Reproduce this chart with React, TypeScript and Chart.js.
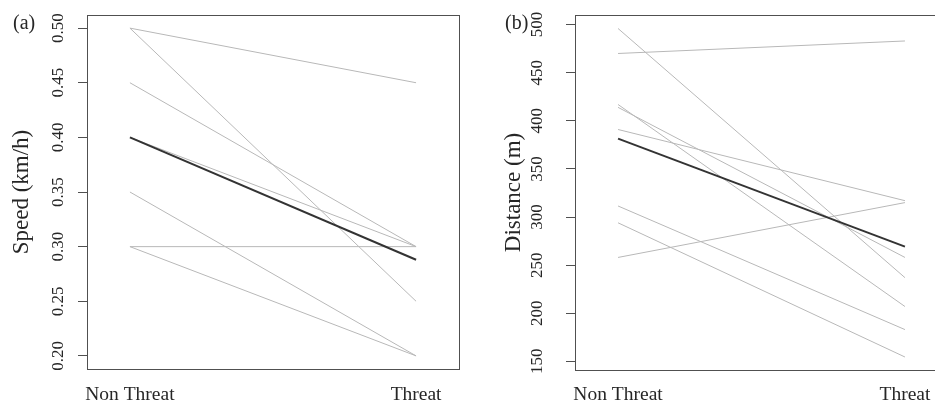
import React, { useEffect, useRef } from "react";
import { Chart, registerables } from "chart.js";

Chart.register(...registerables);

// ---------- data ----------
const categories = ["Non Threat", "Threat"];

const speedNonThreat = [0.5, 0.5, 0.45, 0.4, 0.35, 0.3, 0.3];
const speedThreat = [0.45, 0.25, 0.3, 0.3, 0.2, 0.3, 0.2];
const speedMean = [0.4, 0.288];
const speedTicks = [0.2, 0.25, 0.3, 0.35, 0.4, 0.45, 0.5];
const speedTickLabels = ["0.20", "0.25", "0.30", "0.35", "0.40", "0.45", "0.50"];

const distNonThreat = [470, 496, 417, 414, 391, 311.5, 294, 258];
const distThreat = [483, 237, 207, 258, 317, 183, 154.5, 315];
const distMean = [381.5, 269.2];
const distTicks = [150, 200, 250, 300, 350, 400, 450, 500];
const distTickLabels = ["150", "200", "250", "300", "350", "400", "450", "500"];

const GRAY = "#b8b8b8";
const DARK = "#333333";
const TEXT = "#262626";
const BOX = "#505050";
const SERIF = '"Liberation Serif", "Times New Roman", serif';

type PanelCfg = {
  panel: string;
  title: string;
  nonThreat: number[];
  threat: number[];
  mean: number[];
  ticks: number[];
  tickLabels: string[];
  yMin: number;
  yMax: number;
  width: number;
  yAxisWidth: number;
  padTop: number;
  padRight: number;
  xAxisHeight: number;
  tickLabelX: number;
  titleX: number;
  panelX: number;
  panelY: number;
  xLabelY: number;
};

function makeChart(canvas: HTMLCanvasElement, cfg: PanelCfg) {
  const datasets: any[] = [
    {
      data: categories.map((_, i) => ({ x: i + 1, y: cfg.mean[i] })),
      borderColor: DARK,
      borderWidth: 2,
      pointRadius: 0,
      fill: false,
      tension: 0,
    },
  ];
  cfg.nonThreat.forEach((v, i) => {
    datasets.push({
      data: [
        { x: 1, y: v },
        { x: 2, y: cfg.threat[i] },
      ],
      borderColor: GRAY,
      borderWidth: 1,
      pointRadius: 0,
      fill: false,
      tension: 0,
    });
  });

  const textPlugin = {
    id: "panelText",
    afterDatasetsDraw(chart: any) {
      const ctx = chart.ctx;
      const { left, right, top, bottom } = chart.chartArea;
      const ys = chart.scales.y;
      const xs = chart.scales.x;
      ctx.save();
      // box
      ctx.strokeStyle = BOX;
      ctx.lineWidth = 1;
      ctx.strokeRect(
        Math.round(left) + 0.5,
        Math.round(top) + 0.5,
        Math.round(right) - Math.round(left),
        Math.round(bottom) - Math.round(top)
      );
      ctx.fillStyle = TEXT;
      // y tick labels (rotated)
      ctx.font = "17px " + SERIF;
      ctx.textAlign = "center";
      ctx.textBaseline = "alphabetic";
      cfg.ticks.forEach((v, i) => {
        const y = ys.getPixelForValue(v);
        ctx.save();
        ctx.translate(cfg.tickLabelX, y);
        ctx.rotate(-Math.PI / 2);
        ctx.fillText(cfg.tickLabels[i], 0, 0);
        ctx.restore();
      });
      // y title
      ctx.font = "23px " + SERIF;
      ctx.save();
      ctx.translate(cfg.titleX, (top + bottom) / 2);
      ctx.rotate(-Math.PI / 2);
      ctx.fillText(cfg.title, 0, 0);
      ctx.restore();
      // x labels
      ctx.font = "19.5px " + SERIF;
      categories.forEach((c, i) => {
        const x = xs.getPixelForValue(i + 1);
        ctx.fillText(c, x, cfg.xLabelY);
      });
      // panel label
      ctx.font = "20px " + SERIF;
      ctx.textAlign = "left";
      ctx.fillText(cfg.panel, cfg.panelX, cfg.panelY);
      ctx.restore();
    },
  };

  return new Chart(canvas, {
    type: "line",
    data: { datasets },
    options: {
      animation: false,
      responsive: false,
      maintainAspectRatio: false,
      events: [],
      layout: {
        padding: { left: 0, top: cfg.padTop, right: cfg.padRight, bottom: 0 },
      },
      plugins: {
        legend: { display: false },
        tooltip: { enabled: false },
        title: { display: false },
      },
      scales: {
        x: {
          type: "linear",
          min: 0.85,
          max: 2.15,
          afterBuildTicks: (s: any) => {
            s.ticks = categories.map((_, i) => ({ value: i + 1 }));
          },
          afterFit: (s: any) => {
            s.height = cfg.xAxisHeight;
          },
          ticks: { display: false },
          grid: { display: false },
          border: { display: false },
        },
        y: {
          type: "linear",
          min: cfg.yMin,
          max: cfg.yMax,
          afterBuildTicks: (s: any) => {
            s.ticks = cfg.ticks.map((v) => ({ value: v }));
          },
          afterFit: (s: any) => {
            s.width = cfg.yAxisWidth;
          },
          ticks: { display: false },
          grid: {
            drawOnChartArea: false,
            drawTicks: true,
            tickLength: 9,
            color: BOX,
            lineWidth: 1,
          },
          border: { display: false },
        },
      },
    } as any,
    plugins: [textPlugin],
  });
}

const H = 403;

const speedCfg: PanelCfg = {
  panel: "(a)",
  title: "Speed (km/h)",
  nonThreat: speedNonThreat,
  threat: speedThreat,
  mean: speedMean,
  ticks: speedTicks,
  tickLabels: speedTickLabels,
  yMin: 0.188,
  yMax: 0.512,
  width: 470,
  yAxisWidth: 87,
  padTop: 15,
  padRight: 11,
  xAxisHeight: 34,
  tickLabelX: 63,
  titleX: 28,
  panelX: 13,
  panelY: 29,
  xLabelY: 400,
};

const distCfg: PanelCfg = {
  panel: "(b)",
  title: "Distance (m)",
  nonThreat: distNonThreat,
  threat: distThreat,
  mean: distMean,
  ticks: distTicks,
  tickLabels: distTickLabels,
  yMin: 141,
  yMax: 510,
  width: 490,
  yAxisWidth: 105,
  padTop: 15,
  padRight: 12,
  xAxisHeight: 33,
  tickLabelX: 72,
  titleX: 50,
  panelX: 35,
  panelY: 29,
  xLabelY: 400,
};

export default function App() {
  const refA = useRef<HTMLCanvasElement>(null);
  const refB = useRef<HTMLCanvasElement>(null);

  useEffect(() => {
    const a = makeChart(refA.current as HTMLCanvasElement, speedCfg);
    const b = makeChart(refB.current as HTMLCanvasElement, distCfg);
    return () => {
      a.destroy();
      b.destroy();
    };
  }, []);

  return (
    <div
      style={{
        position: "fixed",
        left: 0,
        top: 0,
        width: 935,
        height: H,
        overflow: "hidden",
        background: "#ffffff",
      }}
    >
      <canvas
        ref={refA}
        width={speedCfg.width}
        height={H}
        style={{ position: "absolute", left: 0, top: 0, width: speedCfg.width, height: H }}
      />
      <canvas
        ref={refB}
        width={distCfg.width}
        height={H}
        style={{ position: "absolute", left: 470, top: 0, width: distCfg.width, height: H }}
      />
    </div>
  );
}
